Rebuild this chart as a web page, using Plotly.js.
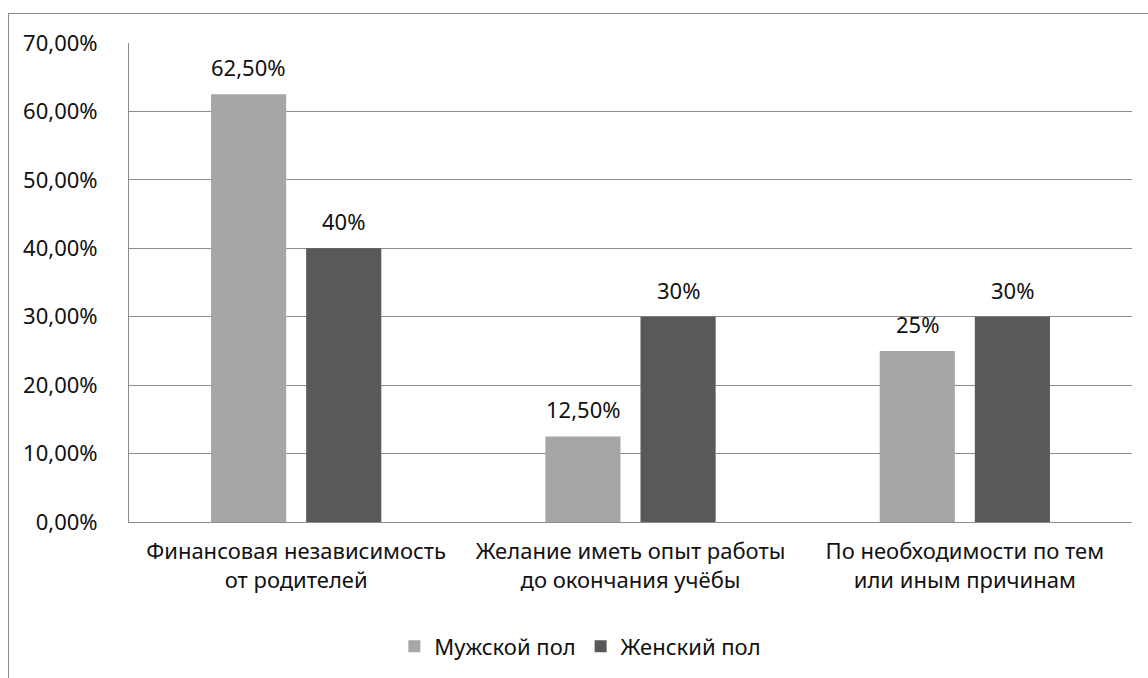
<!DOCTYPE html>
<html>
<head>
<meta charset="utf-8">
<script src="https://cdn.plot.ly/plotly-3.0.1.min.js"></script>
<style>
  html, body { margin: 0; padding: 0; background: #fff; width: 1148px; height: 678px; overflow: hidden; }
  #frame { position: absolute; left: 8px; top: 13px; width: 1140px; height: 665px; border-left: 1px solid #8c8c8c; border-top: 1px solid #8c8c8c; box-sizing: border-box; }
  #chart { position: absolute; left: 0; top: 0; width: 1139px; height: 664px; }
</style>
</head>
<body>
<div id="frame"><div id="chart"></div></div>
<script>
const categories = [
  "Финансовая независимость<br>от родителей",
  "Желание иметь опыт работы<br>до окончания учёбы",
  "По необходимости по тем<br>или иным причинам"
];
const seriesNames = ["Мужской пол", "Женский пол"];
const maleValues = [0.625, 0.125, 0.25];
const femaleValues = [0.40, 0.30, 0.30];
const maleLabels = ["62,50%", "12,50%", "25%"];
const femaleLabels = ["40%", "30%", "30%"];
const yTickVals = [0, 0.1, 0.2, 0.3, 0.4, 0.5, 0.6, 0.7];

const FONT = "Noto Sans, sans-serif";
const FS = 22;
const TXT = "#111111";
const lightColor = "#a6a6a6";
const darkColor = "#595959";
const gridColor = "#8c8c8c";

const traces = [
  { type: "bar", name: seriesNames[0], x: categories, y: maleValues,
    marker: { color: lightColor }, hoverinfo: "skip" },
  { type: "bar", name: seriesNames[1], x: categories, y: femaleValues,
    marker: { color: darkColor }, hoverinfo: "skip" }
];

const annotations = [];
const groups = [[maleValues, maleLabels, -47.5], [femaleValues, femaleLabels, 47.5]];
groups.forEach(([vals, labels, shift]) => {
  vals.forEach((v, i) => {
    annotations.push({
      x: categories[i], y: v, xref: "x", yref: "y",
      text: labels[i], showarrow: false,
      xshift: shift, yshift: 10, yanchor: "bottom",
      font: { family: FONT, size: FS, color: TXT }
    });
  });
});

const layout = {
  width: 1139, height: 664,
  margin: { l: 120, r: 16, t: 29, b: 155 },
  paper_bgcolor: "#ffffff", plot_bgcolor: "#ffffff",
  separators: ", ",
  barmode: "group",
  bargap: 0.431,
  bargroupgap: 0.21,
  font: { family: FONT, size: FS, color: TXT },
  xaxis: {
    type: "category",
    showline: true, linecolor: gridColor, linewidth: 1,
    showgrid: false, ticks: "",
    tickfont: { family: FONT, size: FS, color: TXT },
    ticklabelstandoff: 10,
    fixedrange: true
  },
  yaxis: {
    range: [0, 0.7],
    tickvals: yTickVals,
    tickformat: ".2%",
    showline: true, linecolor: gridColor, linewidth: 1,
    showgrid: true, gridcolor: gridColor, gridwidth: 1,
    zeroline: false,
    ticks: "",
    ticklabelstandoff: 26,
    tickfont: { family: FONT, size: FS, color: TXT },
    fixedrange: true
  },
  showlegend: true,
  legend: {
    orientation: "h",
    x: 0.45, xanchor: "center",
    y: -0.257, yanchor: "middle",
    font: { family: FONT, size: FS, color: TXT },
    itemwidth: 30,
    traceorder: "normal"
  },
  annotations: annotations
};

Plotly.newPlot("chart", traces, layout, { displayModeBar: false, staticPlot: true });
</script>
</body>
</html>
